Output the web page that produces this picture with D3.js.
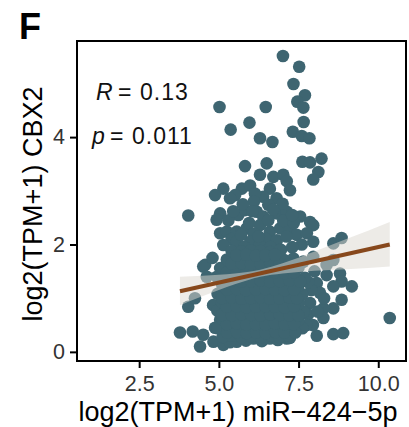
<!DOCTYPE html>
<html>
<head>
<meta charset="utf-8">
<script src="https://cdn.jsdelivr.net/npm/d3@7"></script>
<style>
  body { margin: 0; background: #fff; }
  svg { display: block; font-family: "Liberation Sans", Arial, sans-serif; }
</style>
</head>
<body>
<svg id="chart" width="409" height="427"></svg>
<script>
// samples: [log2(TPM+1) miR-424-5p, log2(TPM+1) CBX2]
const samples = [
  // sparse top
  [7.01,5.51],[7.52,5.31],[7.34,4.99],[7.70,4.78],[7.46,4.66],[7.65,4.55],[5.02,4.56],[6.47,4.56],
  [5.96,4.27],[5.37,4.14],[7.66,4.28],[7.32,4.10],[7.60,4.02],[7.84,3.98],[6.29,3.98],[6.68,3.91],
  // upper middle
  [8.22,3.60],[7.62,3.54],[7.86,3.53],[8.12,3.35],[7.96,3.21],[5.82,3.46],[6.50,3.51],[6.29,3.30],
  [6.71,3.26],[7.02,3.30],[7.13,3.18],[7.23,3.01],[6.60,3.04],[6.81,2.86],[5.72,3.04],[5.98,3.10],
  [5.51,2.92],[5.35,2.86],[5.14,3.04],[4.88,2.92],[6.39,2.89],[6.13,2.95],
  [4.04,2.54],[5.04,2.58],[4.93,2.46],[5.61,2.55],[5.82,2.64],[6.19,2.61],[6.39,2.52],[6.81,2.58],
  [7.13,2.61],[7.55,2.52],[7.86,2.42],[7.96,2.36],[5.75,2.75],[6.10,2.80],[6.55,2.74],[7.00,2.76],
  [5.04,2.21],[5.25,2.24],[5.56,2.24],[5.87,2.30],[6.29,2.36],[6.60,2.24],[6.92,2.30],[7.23,2.30],
  [7.44,2.18],[7.76,2.21],[7.96,2.05],[8.59,2.02],[8.85,2.12],[5.30,2.45],[5.95,2.40],[6.55,2.45],
  [7.02,2.44],[7.35,2.40],[5.40,2.10],[6.10,2.20],[6.48,2.10],[6.82,2.08],[7.12,2.15],[7.60,2.00],
  [5.14,1.99],[5.56,2.05],[5.98,2.05],[6.29,1.99],[5.80,1.95],[6.62,1.95],[6.95,1.90],[7.30,1.95],
  [6.05,2.62],[6.70,2.65],[5.45,2.62],[7.30,2.55],[6.25,2.15],[5.70,2.18],
  // around the fit line
  [4.57,1.62],[5.04,1.56],[5.35,1.65],[5.66,1.59],[5.98,1.68],[6.29,1.71],[6.60,1.62],[6.92,1.65],
  [7.34,1.74],[7.65,1.68],[7.96,1.77],[8.38,1.62],[8.59,1.71],[4.51,1.59],[4.62,1.40],[4.80,1.75],
  // right side
  [8.80,1.46],[9.17,1.22],[8.85,1.31],[8.59,1.22],[8.85,0.97],[8.59,0.81],[8.28,0.81],[8.28,0.63],
  [10.36,0.63],[8.07,0.30],[8.59,0.33],[8.90,0.35],[8.07,1.28],[8.17,1.10],[7.86,0.91],[8.38,1.43],
  [8.00,1.50],[7.90,1.15],[8.30,1.00],[7.80,0.70],[7.95,0.50],[8.10,0.75],[7.80,1.30],[7.75,0.50],
  // left side and bottom
  [3.78,0.36],[4.18,0.38],[4.51,0.32],[4.41,0.10],[4.83,0.19],[5.14,0.13],[5.56,0.19],[6.08,0.25],
  [6.60,0.25],[7.13,0.25],[4.04,0.84],[4.25,1.00],[4.82,0.87],[4.88,0.45],[5.04,0.60],[7.23,0.26],
  [5.35,0.18],[5.85,0.21],[6.35,0.20],[6.85,0.22],
  // dense core
  [5.12,0.28],[5.41,0.30],[5.72,0.27],[6.01,0.29],[6.32,0.27],[6.63,0.30],[6.88,0.28],[7.18,0.31],
  [4.96,0.44],[5.27,0.45],[5.54,0.43],[5.86,0.46],[6.14,0.44],[6.46,0.42],[6.77,0.45],[7.04,0.43],[7.36,0.46],[7.62,0.44],
  [5.11,0.61],[5.42,0.59],[5.71,0.62],[6.02,0.60],[6.28,0.61],[6.61,0.58],[6.92,0.62],[7.21,0.60],[7.49,0.59],
  [4.95,0.77],[5.26,0.75],[5.57,0.78],[5.84,0.76],[6.16,0.77],[6.44,0.75],[6.76,0.78],[7.06,0.76],[7.34,0.77],[7.66,0.75],
  [5.09,0.93],[5.41,0.91],[5.69,0.92],[6.01,0.94],[6.31,0.91],[6.59,0.93],[6.91,0.92],[7.19,0.94],[7.51,0.91],
  [4.96,1.08],[5.24,1.09],[5.56,1.07],[5.86,1.08],[6.14,1.10],[6.46,1.07],[6.74,1.09],[7.06,1.08],[7.62,1.07],
  [5.11,1.24],[5.39,1.25],[5.71,1.23],[5.99,1.24],[6.31,1.26],[6.61,1.23],[6.89,1.25],[7.21,1.24],[7.49,1.22],
  [4.94,1.40],[5.26,1.41],[5.54,1.39],[5.86,1.40],[6.16,1.42],[6.44,1.40],[6.76,1.39],[7.04,1.41],[7.36,1.40],[7.70,1.38],
  [5.10,1.56],[5.41,1.55],[5.69,1.57],[6.01,1.56],[6.30,1.55],[6.62,1.57],[6.90,1.56],[7.20,1.55],[7.50,1.57],
  [5.25,1.72],[5.55,1.73],[5.86,1.71],[6.15,1.72],[6.45,1.74],[6.76,1.72],[7.05,1.71],
  [5.40,1.88],[5.71,1.87],[6.00,1.89],[6.31,1.88],[6.61,1.86],[6.90,1.89],
  // core, second layer
  [5.26,0.36],[5.57,0.37],[5.87,0.35],[6.17,0.36],[6.47,0.35],[6.78,0.37],[7.06,0.36],[7.40,0.36],
  [5.25,0.52],[5.56,0.53],[5.86,0.51],[6.16,0.52],[6.46,0.51],[6.76,0.53],[7.06,0.52],[7.36,0.52],
  [5.10,0.69],[5.41,0.68],[5.71,0.70],[6.01,0.69],[6.31,0.68],[6.61,0.70],[6.91,0.69],[7.21,0.68],[7.50,0.68],
  [5.25,0.84],[5.56,0.85],[5.86,0.83],[6.16,0.84],[6.46,0.85],[6.76,0.84],[7.06,0.83],[7.36,0.85],
  [5.10,1.00],[5.40,1.01],[5.71,0.99],[6.01,1.00],[6.31,1.01],[6.61,0.99],[6.91,1.00],[7.21,1.01],[7.45,1.00],
  [5.25,1.16],[5.56,1.17],[5.86,1.15],[6.16,1.16],[6.46,1.17],[6.76,1.16],[7.06,1.15],[7.36,1.16],
  [5.10,1.32],[5.40,1.33],[5.71,1.31],[6.01,1.32],[6.31,1.33],[6.61,1.31],[6.91,1.32],[7.21,1.33],[7.55,1.31],
  [5.25,1.48],[5.56,1.49],[5.86,1.47],[6.16,1.48],[6.46,1.49],[6.76,1.48],[7.06,1.47],[7.36,1.48],
  [5.40,1.64],[5.71,1.65],[6.01,1.63],[6.31,1.64],[6.61,1.65],[6.91,1.64],[7.20,1.63],
  [5.55,1.80],[5.86,1.81],[6.16,1.79],[6.46,1.80],[6.76,1.81]
];

// linear fit
const fitX = [3.78, 10.36];
const fitY = [1.13, 2.00];

// confidence band
const bandX  = [3.78, 4.5, 5.5, 6.3, 7.0, 8.0, 9.0, 10.36];
const bandLo = [0.87, 1.04, 1.26, 1.40, 1.46, 1.51, 1.54, 1.59];
const bandHi = [1.40, 1.42, 1.46, 1.53, 1.65, 1.87, 2.10, 2.42];

const xTicks = [2.5, 5.0, 7.5, 10.0];
const yTicks = [0, 2, 4];

const statLines = [
  { name: 'R', value: '0.13' },
  { name: 'p', value: '0.011' }
];

const svg = d3.select('#chart');

const margin = { left: 77, right: 3, top: 41, bottom: 66 };
const width = 409, height = 427;

const x = d3.scaleLinear()
  .domain([0.55, 10.87])
  .range([margin.left, width - margin.right]);

const y = d3.scaleLinear()
  .domain([-0.17, 5.79])
  .range([height - margin.bottom, margin.top]);

const pointColor = '#3e6571';

// points
svg.append('g')
  .selectAll('circle')
  .data(samples)
  .enter().append('circle')
  .attr('cx', d => x(d[0]))
  .attr('cy', d => y(d[1]))
  .attr('r', 6.3)
  .attr('fill', pointColor);

// confidence band over the points
const band = d3.area()
  .x((d, i) => x(bandX[i]))
  .y0((d, i) => y(bandLo[i]))
  .y1((d, i) => y(bandHi[i]))
  .curve(d3.curveMonotoneX);

svg.append('path')
  .datum(bandX)
  .attr('d', band)
  .attr('fill', '#dcd8cf')
  .attr('fill-opacity', 0.5);

// fit line
svg.append('line')
  .attr('x1', x(fitX[0]))
  .attr('y1', y(fitY[0]))
  .attr('x2', x(fitX[1]))
  .attr('y2', y(fitY[1]))
  .attr('stroke', '#87481c')
  .attr('stroke-width', 4);

// panel border
svg.append('rect')
  .attr('x', margin.left)
  .attr('y', margin.top)
  .attr('width', width - margin.right - margin.left)
  .attr('height', height - margin.bottom - margin.top)
  .attr('fill', 'none')
  .attr('stroke', '#000')
  .attr('stroke-width', 2);

// axes
const xAxis = svg.append('g')
  .attr('transform', `translate(0,${height - margin.bottom})`)
  .call(d3.axisBottom(x).tickValues(xTicks).tickFormat(d3.format('.1f')).tickSize(7).tickPadding(8));

const yAxis = svg.append('g')
  .attr('transform', `translate(${margin.left},0)`)
  .call(d3.axisLeft(y).tickValues(yTicks).tickFormat(d3.format('d')).tickSize(7).tickPadding(5));

[xAxis, yAxis].forEach(g => {
  g.select('.domain').remove();
  g.selectAll('.tick line').attr('stroke', '#000').attr('stroke-width', 2);
  g.selectAll('.tick text')
    .attr('fill', '#333')
    .style('font-size', '21.5px')
    .style('font-family', '"Liberation Sans", Arial, sans-serif');
});

// axis titles
svg.append('text')
  .attr('x', 238)
  .attr('y', 421)
  .attr('text-anchor', 'middle')
  .style('font-size', '27px')
  .text('log2(TPM+1) miR\u2212424\u22125p');

svg.append('text')
  .attr('transform', 'translate(42,204) rotate(-90)')
  .attr('text-anchor', 'middle')
  .style('font-size', '27px')
  .text('log2(TPM+1) CBX2');

// panel letter
svg.append('text')
  .attr('x', 19)
  .attr('y', 39)
  .style('font-size', '36px')
  .style('font-weight', 'bold')
  .text('F');

// correlation annotation
const stat = svg.append('g');
statLines.forEach((s, i) => {
  const base = 100 + i * 44;
  const t = stat.append('text')
    .attr('y', base)
    .style('font-size', '23px')
    .attr('fill', '#111');
  t.append('tspan')
    .attr('x', i === 0 ? 96 : 92)
    .style('font-style', 'italic')
    .text(s.name);
  t.append('tspan')
    .attr('x', i === 0 ? 118 : 110)
    .text('=');
  t.append('tspan')
    .attr('x', i === 0 ? 140 : 132)
    .style('letter-spacing', '1px')
    .text(s.value);
});
</script>
</body>
</html>
